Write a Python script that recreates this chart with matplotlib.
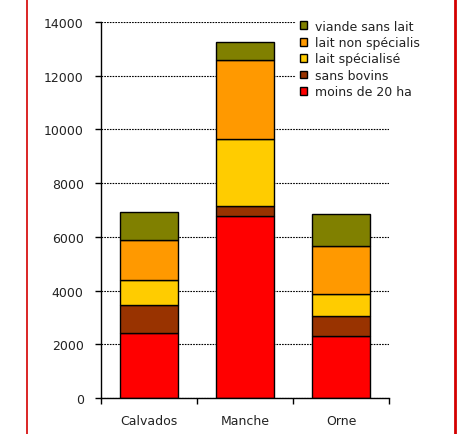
import numpy as np
import matplotlib
matplotlib.use('Agg')
import matplotlib.pyplot as plt
from matplotlib.patches import Patch
from matplotlib.lines import Line2D

# Exploitations par département et par type
departements = ['Calvados', 'Manche', 'Orne']
types = ['moins de 20 ha', 'sans bovins', 'lait spécialisé',
         'lait non spécialis', 'viande sans lait']
moins_20ha = [2430, 6790, 2320]
sans_bovins = [1020, 370, 720]
lait_specialise = [940, 2500, 820]
lait_non_spec = [1500, 2910, 1800]
viande_sans_lait = [1020, 670, 1190]
couleurs = ['#ff0000', '#993300', '#ffcc00', '#ff9900', '#808000']

series = [moins_20ha, sans_bovins, lait_specialise, lait_non_spec, viande_sans_lait]

plt.rcParams['font.family'] = ['DejaVu Sans']

fig = plt.figure(figsize=(4.77, 4.35), dpi=100)
ax = fig.add_axes([101/477, 36/435, 288/477, 376/435])

x = np.arange(len(departements))
bas = np.zeros(len(departements))
for vals, coul, nom in zip(series, couleurs, types):
    ax.bar(x, vals, width=0.61, bottom=bas, color=coul, edgecolor='black',
           linewidth=1.0, label=nom, zorder=3)
    bas += np.array(vals)

ax.set_xlim(-0.5, 2.5)
ax.set_ylim(0, 14000)
ax.set_yticks(np.arange(0, 14001, 2000))
ax.set_xticks(x)
ax.set_xticklabels(departements)
ax.set_xticks([-0.5, 0.5, 1.5, 2.5], minor=True)
ax.tick_params(axis='x', which='major', length=0, pad=11.5, labelsize=9, colors='#222222')
ax.tick_params(axis='x', which='minor', length=4.5, width=1.0, direction='out')
ax.tick_params(axis='y', length=4.5, width=1.0, direction='out', pad=8, labelsize=9,
               labelcolor='#222222')

ax.yaxis.grid(True, color='black', linestyle=(0, (1.5, 1)), linewidth=0.8, zorder=0)
ax.set_axisbelow(True)
for s in ['top', 'right']:
    ax.spines[s].set_visible(False)
for s in ['left', 'bottom']:
    ax.spines[s].set_linewidth(1.0)
    ax.spines[s].set_zorder(4)

# Légende (ordre inversé, comme l'empilement)
poignees = [Patch(facecolor=c, edgecolor='black', linewidth=1.0) for c in couleurs][::-1]
leg = fig.legend(poignees, types[::-1], loc='upper left',
                 bbox_to_anchor=(296/477, 1 - 17/435), frameon=True,
                 fontsize=9, handlelength=0.6, handleheight=0.6,
                 handletextpad=0.6, labelspacing=0.27, borderpad=0.3,
                 borderaxespad=0)
leg.get_frame().set_edgecolor('none')
leg.get_frame().set_facecolor('white')
leg.get_frame().set_alpha(1)
for t in leg.get_texts():
    t.set_color('#222222')

# Cadre rouge de part et d'autre
fig.add_artist(Line2D([27/477, 27/477], [0, 1], transform=fig.transFigure,
                      color='#d40000', linewidth=1.2))
fig.add_artist(Line2D([455/477, 455/477], [0, 1], transform=fig.transFigure,
                      color='#d40000', linewidth=2.0))

fig.savefig('out.png', dpi=100)
